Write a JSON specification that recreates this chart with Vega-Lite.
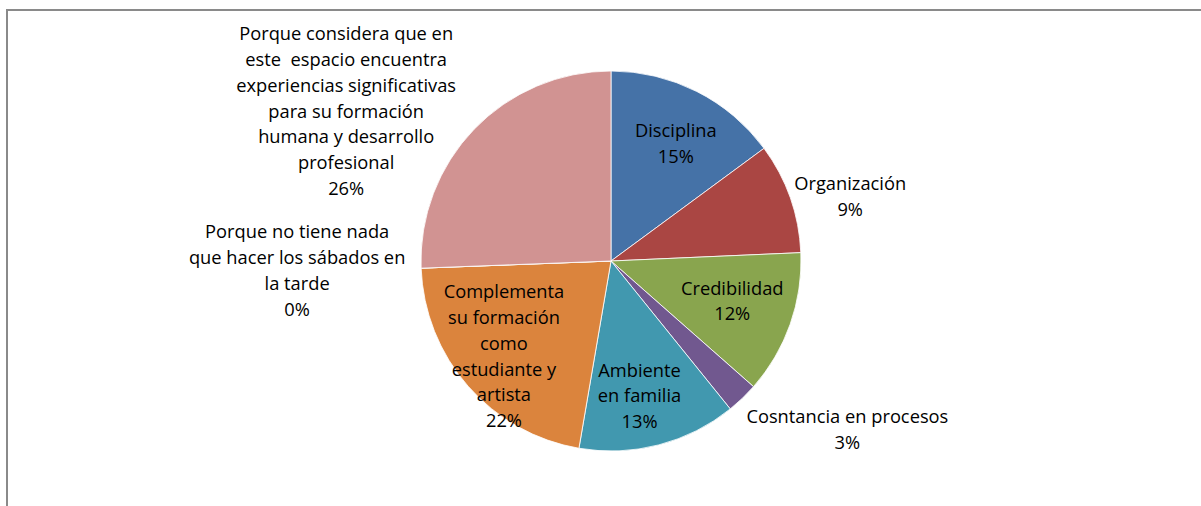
{
  "$schema": "https://vega.github.io/schema/vega-lite/v6.json",
  "width": 1208,
  "height": 502,
  "autosize": {"type": "none"},
  "padding": {"left": 7, "top": 10, "right": -14, "bottom": -6},
  "background": "white",
  "view": {"stroke": "#8a8a8a", "strokeWidth": 2, "fill": null},
  "config": {"view": {"stroke": "#8a8a8a", "strokeWidth": 2}, "text": {"font": "Open Sans", "fontSize": 18.3, "lineHeight": 25.8, "lineBreak": "\n", "align": "center", "baseline": "middle", "color": "#000000"}},
  "data": {"values": [
    {"ord": 1, "cat": "Disciplina", "pct": 14.9, "label": "Disciplina\n15%"},
    {"ord": 2, "cat": "Organización", "pct": 9.4, "label": "Organización\n9%"},
    {"ord": 3, "cat": "Credibilidad", "pct": 12.2, "label": "Credibilidad\n12%"},
    {"ord": 4, "cat": "Cosntancia en procesos", "pct": 2.7, "label": "Cosntancia en procesos\n3%"},
    {"ord": 5, "cat": "Ambiente en familia", "pct": 13.5, "label": "Ambiente\nen familia\n13%"},
    {"ord": 6, "cat": "Complementa su formación como estudiante y artista", "pct": 21.7, "label": "Complementa\nsu formación\ncomo\nestudiante y\nartista\n22%"},
    {"ord": 7, "cat": "Porque no tiene nada que hacer los sábados en la tarde", "pct": 0, "label": "Porque no tiene nada\nque hacer los sábados en\nla tarde\n0%"},
    {"ord": 8, "cat": "Porque considera que en este espacio encuentra experiencias significativas para su formación humana y desarrollo profesional", "pct": 25.6, "label": "Porque considera que en\neste \u00a0espacio encuentra\nexperiencias significativas\npara su formación\nhumana y desarrollo\nprofesional\n26%"}
  ]},
  "encoding": {
    "theta": {"field": "pct", "type": "quantitative", "stack": true},
    "order": {"field": "ord", "type": "quantitative"}
  },
  "layer": [
    {
      "mark": {"type": "arc", "outerRadius": 190, "stroke": "#ffffff", "strokeWidth": 0.8},
      "encoding": {
        "color": {
          "field": "cat", "type": "nominal", "legend": null,
          "scale": {
            "domain": ["Disciplina", "Organización", "Credibilidad", "Cosntancia en procesos", "Ambiente en familia", "Complementa su formación como estudiante y artista", "Porque no tiene nada que hacer los sábados en la tarde", "Porque considera que en este espacio encuentra experiencias significativas para su formación humana y desarrollo profesional"],
            "range": ["#4572A7", "#AA4643", "#89A54E", "#71588F", "#4198AF", "#DB843D", "#93A9CF", "#D19392"]
          }
        }
      }
    },
    {
      "mark": {"type": "text", "radius": 137, "dx": 3, "dy": -7},
      "encoding": {"text": {"condition": {"test": "datum.ord == 1", "field": "label", "type": "nominal"}, "value": ""}}
    },
    {
      "mark": {"type": "text", "radius": 137, "dx": -8, "dy": -17},
      "encoding": {"text": {"condition": {"test": "datum.ord == 3", "field": "label", "type": "nominal"}, "value": ""}}
    },
    {
      "mark": {"type": "text", "radius": 137, "dx": -6, "dy": -22},
      "encoding": {"text": {"condition": {"test": "datum.ord == 5", "field": "label", "type": "nominal"}, "value": ""}}
    },
    {
      "mark": {"type": "text", "radius": 137, "dx": -4, "dy": -58},
      "encoding": {"text": {"condition": {"test": "datum.ord == 6", "field": "label", "type": "nominal"}, "value": ""}}
    },
    {
      "mark": {"type": "text", "radius": 190, "dx": 60, "dy": -13},
      "encoding": {"text": {"condition": {"test": "datum.ord == 2", "field": "label", "type": "nominal"}, "value": ""}}
    },
    {
      "mark": {"type": "text", "radius": 190, "dx": 105, "dy": 20},
      "encoding": {"text": {"condition": {"test": "datum.ord == 4", "field": "label", "type": "nominal"}, "value": ""}}
    },
    {
      "mark": {"type": "text", "radius": 190, "dx": -124, "dy": -35},
      "encoding": {"text": {"condition": {"test": "datum.ord == 7", "field": "label", "type": "nominal"}, "value": ""}}
    },
    {
      "mark": {"type": "text", "radius": 190, "dx": -128, "dy": -94},
      "encoding": {"text": {"condition": {"test": "datum.ord == 8", "field": "label", "type": "nominal"}, "value": ""}}
    }
  ]
}
